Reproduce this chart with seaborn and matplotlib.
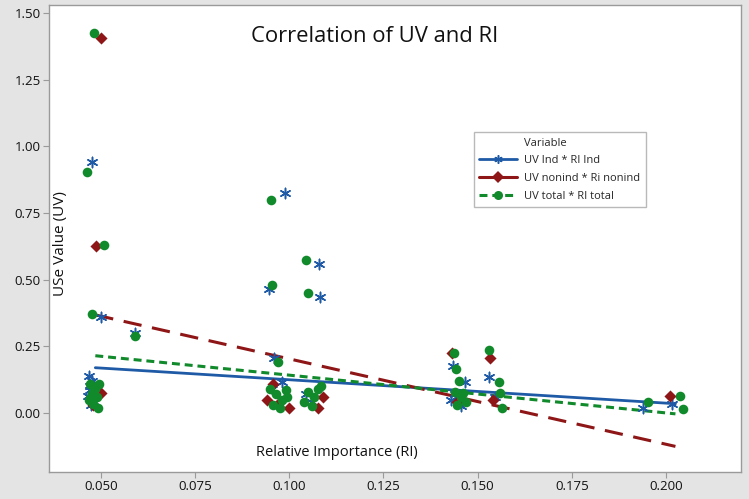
import numpy as np
import pandas as pd
import matplotlib
matplotlib.use("Agg")
import matplotlib.pyplot as plt
from matplotlib.lines import Line2D
import seaborn as sns

# --------------------------
# Data
# --------------------------
ind_x = [0.0476, 0.0500, 0.0590, 0.0468, 0.0475, 0.0470, 0.0472, 0.0466, 0.0478, 0.0474, 0.0482,
         0.0989, 0.1079, 0.0946, 0.1081, 0.0959, 0.0980, 0.0955, 0.1045, 0.1060, 0.0970,
         0.1434, 0.1466, 0.1530, 0.1440, 0.1460, 0.1455, 0.1545, 0.1430,
         0.1940, 0.2016]
ind_y = [0.940, 0.360, 0.300, 0.140, 0.120, 0.100, 0.085, 0.065, 0.045, 0.030, 0.110,
         0.825, 0.560, 0.465, 0.435, 0.205, 0.115, 0.090, 0.070, 0.040, 0.030,
         0.175, 0.115, 0.135, 0.070, 0.040, 0.025, 0.060, 0.050,
         0.020, 0.035]

nonind_x = [0.0500, 0.0487, 0.0500, 0.0478,
            0.0957, 0.0940, 0.1000, 0.1090, 0.1076, 0.0970,
            0.1432, 0.1533, 0.1540, 0.1445,
            0.2010]
nonind_y = [1.405, 0.625, 0.075, 0.030,
            0.110, 0.050, 0.020, 0.060, 0.020, 0.035,
            0.225, 0.205, 0.050, 0.040,
            0.065]

total_x = [0.0481, 0.0463, 0.0508, 0.0476, 0.0590,
           0.0470, 0.0485, 0.0475, 0.0490, 0.0468, 0.0480, 0.0492, 0.0478, 0.0495, 0.0472,
           0.0951, 0.1044, 0.0954, 0.1049, 0.0970, 0.0950, 0.0965, 0.0980, 0.0958, 0.0990,
           0.0975, 0.1050, 0.1065, 0.1040, 0.1075, 0.1060, 0.1085, 0.0995,
           0.1437, 0.1530, 0.1442, 0.1450, 0.1557, 0.1560, 0.1565, 0.1440, 0.1455, 0.1470,
           0.1445, 0.1460,
           0.1952, 0.2037, 0.2045]
total_y = [1.425, 0.905, 0.630, 0.370, 0.290,
           0.110, 0.090, 0.070, 0.060, 0.050, 0.035, 0.020, 0.080, 0.110, 0.055,
           0.800, 0.575, 0.480, 0.450, 0.190, 0.090, 0.070, 0.050, 0.030, 0.085,
           0.020, 0.080, 0.060, 0.040, 0.090, 0.025, 0.100, 0.060,
           0.225, 0.235, 0.165, 0.120, 0.115, 0.075, 0.020, 0.080, 0.060, 0.040,
           0.030, 0.075,
           0.040, 0.065, 0.015]

# fitted regression lines (end points)
fit_x = [0.0485, 0.2025]
ind_fit = [0.170, 0.035]
nonind_fit = [0.368, -0.125]
total_fit = [0.215, -0.003]

series_labels = ["UV Ind * RI Ind", "UV nonind * Ri nonind", "UV total * RI total"]
x_ticks = [0.050, 0.075, 0.100, 0.125, 0.150, 0.175, 0.200]
y_ticks = [0.00, 0.25, 0.50, 0.75, 1.00, 1.25, 1.50]

# --------------------------
# Style
# --------------------------
sns.set_theme(style="white")
plt.rcParams["font.family"] = ["Open Sans", "DejaVu Sans"]

blue = "#1f5aa6"
red = "#8e1616"
green = "#118a2c"
bg = "#e4e4e4"
frame = "#9a9a9a"

fig = plt.figure(figsize=(7.49, 4.99), dpi=100, facecolor=bg)
ax = fig.add_axes([0.0654, 0.0541, 0.9239, 0.9359])
ax.set_facecolor("white")

# fit lines
sns.lineplot(x=fit_x, y=ind_fit, ax=ax, color=blue, linewidth=2.0, zorder=2)
sns.lineplot(x=fit_x, y=nonind_fit, ax=ax, color=red, linewidth=2.2,
             linestyle=(0, (6, 3.5)), zorder=2)
sns.lineplot(x=fit_x, y=total_fit, ax=ax, color=green, linewidth=2.2,
             linestyle=(0, (2.6, 1.6)), zorder=2)

# points
star = (6, 2, 0)
sns.scatterplot(x=ind_x, y=ind_y, ax=ax, marker=star, s=55, color=blue,
                linewidth=1.1, edgecolor=blue, zorder=3)
sns.scatterplot(x=nonind_x, y=nonind_y, ax=ax, marker="D", s=38, color=red,
                linewidth=0, zorder=4)
sns.scatterplot(x=total_x, y=total_y, ax=ax, marker="o", s=48, color=green,
                linewidth=0, zorder=5)

ax.set_xlim(0.0362, 0.2199)
ax.set_ylim(-0.221, 1.53)
ax.set_xticks(x_ticks)
ax.set_xticklabels([f"{v:.3f}" for v in x_ticks])
ax.set_yticks(y_ticks)
ax.set_yticklabels([f"{v:.2f}" for v in y_ticks])
ax.tick_params(axis="both", which="major", length=4, width=0.8, color=frame,
               labelsize=9.5, labelcolor="#111111", direction="out", pad=2)
ax.tick_params(axis="x", bottom=True)
ax.tick_params(axis="y", left=True)
for sp in ax.spines.values():
    sp.set_color(frame)
    sp.set_linewidth(1.0)

# axis labels sit inside the data area, as in the original
ax.set_xlabel("Relative Importance (RI)", fontsize=10.5, color="#111111")
ax.xaxis.set_label_coords(0.416, 0.041)
ax.xaxis.label.set_va("center")
ax.set_ylabel("USe Value (UV)", fontsize=11, color="#111111")
ax.yaxis.set_label_coords(0.016, 0.49)
ax.yaxis.label.set_va("center")

ax.text(0.471, 0.933, "Correlation of UV and RI", transform=ax.transAxes,
        ha="center", va="center", fontsize=15.8, color="#111111")

handles = [
    Line2D([], [], linestyle="none", marker=None),
    Line2D([], [], color=blue, linewidth=2.0, marker=star, markersize=6,
           markeredgewidth=1.1),
    Line2D([], [], color=red, linewidth=2.2, marker="D", markersize=6,
           markeredgewidth=0),
    Line2D([], [], color=green, linewidth=2.2, linestyle=(0, (2.6, 1.6)),
           marker="o", markersize=6.5, markeredgewidth=0),
]
leg = ax.legend(handles, ["Variable"] + series_labels, loc="upper left",
                bbox_to_anchor=(0.614, 0.728), fontsize=8.0, frameon=True,
                fancybox=False, edgecolor="#a8a8a8", handlelength=3.4,
                handletextpad=0.6, labelspacing=0.6, borderpad=0.5,
                borderaxespad=0)
leg.get_frame().set_linewidth(1.0)

fig.savefig("out.png", dpi=100, facecolor=bg)
